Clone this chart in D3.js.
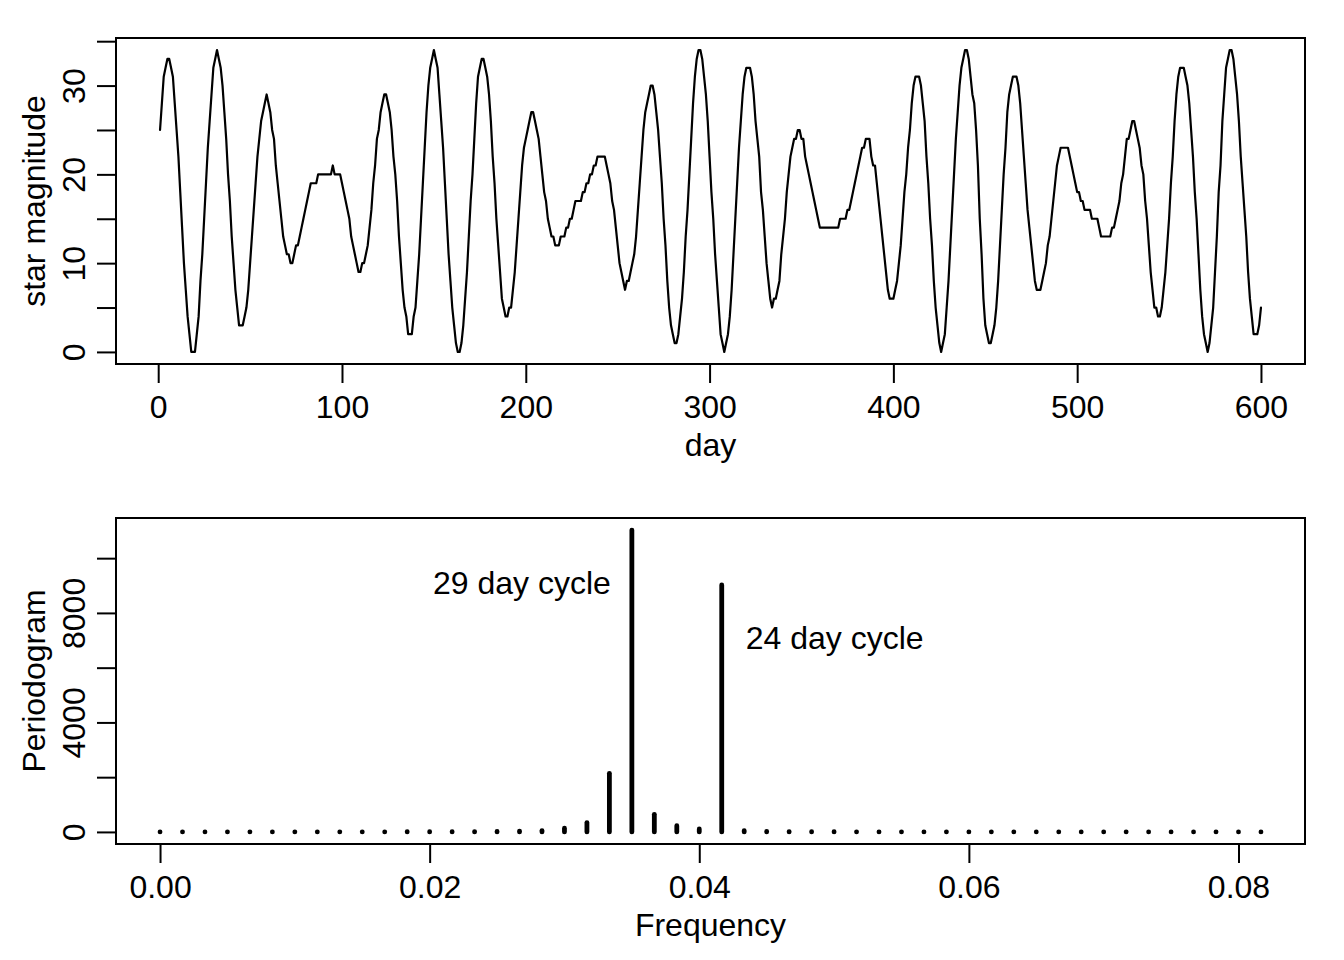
<!DOCTYPE html>
<html>
<head>
<meta charset="utf-8">
<script src="https://cdn.jsdelivr.net/npm/d3@7"></script>
<style>
  body { margin: 0; background: #fff; }
  svg text { font-family: "Liberation Sans", Arial, Helvetica, sans-serif; fill: #000; }
</style>
</head>
<body>
<div id="chart"></div>
<script>
// DATA - STAR MAGNITUDE, ONE READING PER DAY (DAYS 1..600)
const starMagnitude = [
  25, 28, 31, 32, 33, 33, 32, 31, 28, 25,
  22, 18, 14, 10, 7, 4, 2, 0, 0, 0,
  2, 4, 8, 11, 15, 19, 23, 26, 29, 32,
  33, 34, 33, 32, 30, 27, 24, 20, 17, 13,
  10, 7, 5, 3, 3, 3, 4, 5, 7, 10,
  13, 16, 19, 22, 24, 26, 27, 28, 29, 28,
  27, 25, 24, 21, 19, 17, 15, 13, 12, 11,
  11, 10, 10, 11, 12, 12, 13, 14, 15, 16,
  17, 18, 19, 19, 19, 19, 20, 20, 20, 20,
  20, 20, 20, 20, 21, 20, 20, 20, 20, 19,
  18, 17, 16, 15, 13, 12, 11, 10, 9, 9,
  10, 10, 11, 12, 14, 16, 19, 21, 24, 25,
  27, 28, 29, 29, 28, 27, 25, 22, 20, 17,
  13, 10, 7, 5, 4, 2, 2, 2, 4, 5,
  8, 11, 15, 19, 23, 27, 30, 32, 33, 34,
  33, 32, 29, 26, 23, 19, 15, 11, 8, 5,
  3, 1, 0, 0, 1, 3, 6, 9, 13, 17,
  20, 24, 28, 31, 32, 33, 33, 32, 31, 29,
  26, 22, 19, 15, 12, 9, 6, 5, 4, 4,
  5, 5, 7, 9, 12, 15, 18, 21, 23, 24,
  25, 26, 27, 27, 26, 25, 24, 22, 20, 18,
  17, 15, 14, 13, 13, 12, 12, 12, 13, 13,
  13, 14, 14, 15, 15, 16, 17, 17, 17, 17,
  18, 18, 19, 19, 20, 20, 21, 21, 22, 22,
  22, 22, 22, 21, 20, 19, 17, 16, 14, 12,
  10, 9, 8, 7, 8, 8, 9, 10, 11, 13,
  16, 19, 22, 25, 27, 28, 29, 30, 30, 29,
  27, 25, 22, 19, 15, 12, 8, 5, 3, 2,
  1, 1, 2, 4, 6, 9, 13, 16, 20, 24,
  28, 31, 33, 34, 34, 33, 31, 29, 26, 22,
  18, 15, 11, 8, 5, 2, 1, 0, 1, 2,
  4, 7, 11, 15, 19, 23, 26, 29, 31, 32,
  32, 32, 31, 29, 26, 24, 22, 18, 16, 13,
  10, 8, 6, 5, 6, 6, 7, 8, 11, 13,
  15, 18, 20, 22, 23, 24, 24, 25, 25, 24,
  24, 22, 21, 20, 19, 18, 17, 16, 15, 14,
  14, 14, 14, 14, 14, 14, 14, 14, 14, 14,
  15, 15, 15, 15, 16, 16, 17, 18, 19, 20,
  21, 22, 23, 23, 24, 24, 24, 22, 21, 21,
  19, 17, 15, 13, 11, 9, 7, 6, 6, 6,
  7, 8, 10, 12, 15, 18, 20, 23, 25, 28,
  30, 31, 31, 31, 30, 28, 26, 22, 19, 15,
  12, 8, 5, 3, 1, 0, 1, 2, 5, 8,
  12, 16, 20, 24, 27, 30, 32, 33, 34, 34,
  33, 31, 29, 28, 25, 21, 15, 11, 6, 3,
  2, 1, 1, 2, 3, 5, 8, 12, 16, 20,
  23, 27, 29, 30, 31, 31, 31, 30, 28, 25,
  22, 19, 16, 14, 12, 10, 8, 7, 7, 7,
  8, 9, 10, 12, 13, 15, 17, 19, 21, 22,
  23, 23, 23, 23, 23, 22, 21, 20, 19, 18,
  18, 17, 17, 16, 16, 16, 16, 15, 15, 15,
  15, 14, 13, 13, 13, 13, 13, 13, 14, 14,
  15, 16, 17, 19, 20, 22, 24, 24, 25, 26,
  26, 25, 24, 23, 21, 20, 17, 15, 12, 9,
  7, 5, 5, 4, 4, 5, 7, 9, 12, 15,
  19, 22, 26, 29, 31, 32, 32, 32, 31, 30,
  28, 25, 22, 18, 15, 11, 7, 4, 2, 1,
  0, 1, 3, 5, 9, 13, 18, 21, 26, 29,
  32, 33, 34, 34, 33, 31, 29, 26, 22, 19,
  16, 13, 9, 6, 4, 2, 2, 2, 3, 5
];
const days = d3.range(1, starMagnitude.length + 1);

// DATA - PERIODOGRAM AT FREQUENCIES k/600, k = 0..49
const periodogram = [
  0, 2, 1, 3, 2, 1, 4, 3, 2, 5,
  4, 6, 8, 10, 12, 18, 30, 51, 135, 340,
  2141, 11026, 643, 230, 110, 9023, 45, 20, 12, 9,
  7, 5, 4, 4, 3, 3, 2, 2, 2, 1,
  2, 1, 1, 2, 1, 1, 1, 2, 1, 1
];
const frequencies = periodogram.map((d, k) => k / 600);

// TICKS AND LABELS
const dayTicks = [0, 100, 200, 300, 400, 500, 600];
const magTicks = [0, 5, 10, 15, 20, 25, 30, 35];
const magLabels = [0, 10, 20, 30];
const freqTicks = [0, 0.02, 0.04, 0.06, 0.08];
const perTicks = [0, 2000, 4000, 6000, 8000, 10000];
const perLabels = [0, 4000, 8000];
const cycleNotes = [
  { label: "29 day cycle", freq: 21 / 600, value: 9100, side: "left" },
  { label: "24 day cycle", freq: 25 / 600, value: 7100, side: "right" }
];

// SET DIMENSIONS
const W = 1344, H = 960;
const plotLeft = 116, plotRight = 1305;
const topPanel = { top: 38, bottom: 364 };
const bottomPanel = { top: 518, bottom: 844 };
const fontSize = 32;
const tickLen = 19;

// R STYLE 4% AXIS PADDING
const pad = e => [e[0] - (e[1] - e[0]) * 0.04, e[1] + (e[1] - e[0]) * 0.04];

const svg = d3.select("#chart")
  .append("svg")
  .attr("width", W)
  .attr("height", H);

svg.append("rect").attr("width", W).attr("height", H).attr("fill", "#fff");

// DRAW AXES, BOX AND TITLES FOR ONE PANEL
function drawFrame(panel, x, y, xTicks, xFormat, yTicks, yLabels, xTitle, yTitle) {
  const gx = svg.append("g")
    .attr("transform", `translate(0, ${panel.bottom})`)
    .call(d3.axisBottom(x).tickValues(xTicks).tickFormat(xFormat)
      .tickSizeInner(tickLen).tickSizeOuter(0).tickPadding(12.5));
  const gy = svg.append("g")
    .attr("transform", `translate(${plotLeft}, 0)`)
    .call(d3.axisLeft(y).tickValues(yTicks)
      .tickFormat(d => yLabels.includes(d) ? String(d) : "")
      .tickSizeInner(tickLen).tickSizeOuter(0));

  [gx, gy].forEach(g => {
    g.select(".domain").remove();
    g.attr("font-size", fontSize).attr("font-family", null);
    g.selectAll(".tick line").attr("stroke", "#000").attr("stroke-width", 2);
    g.selectAll(".tick text").attr("fill", "#000");
  });

  gy.selectAll(".tick text")
    .attr("x", null)
    .attr("dy", null)
    .attr("text-anchor", "middle")
    .attr("transform", "translate(-31, 0) rotate(-90)");

  svg.append("rect")
    .attr("x", plotLeft)
    .attr("y", panel.top)
    .attr("width", plotRight - plotLeft)
    .attr("height", panel.bottom - panel.top)
    .attr("fill", "none")
    .attr("stroke", "#000")
    .attr("stroke-width", 2);

  svg.append("text")
    .attr("x", (plotLeft + plotRight) / 2)
    .attr("y", panel.bottom + 92)
    .attr("text-anchor", "middle")
    .attr("font-size", fontSize)
    .text(xTitle);

  svg.append("text")
    .attr("transform", `translate(45, ${(panel.top + panel.bottom) / 2}) rotate(-90)`)
    .attr("text-anchor", "middle")
    .attr("font-size", fontSize)
    .text(yTitle);
}

// TOP PANEL - STAR MAGNITUDE
const x1 = d3.scaleLinear().domain(pad(d3.extent(days))).range([plotLeft, plotRight]);
const y1 = d3.scaleLinear().domain(pad(d3.extent(starMagnitude))).range([topPanel.bottom, topPanel.top]);

drawFrame(topPanel, x1, y1, dayTicks, d3.format("d"), magTicks, magLabels, "day", "star magnitude");

const line = d3.line()
  .x((d, i) => x1(days[i]))
  .y(d => y1(d));

svg.append("path")
  .datum(starMagnitude)
  .attr("d", line)
  .attr("fill", "none")
  .attr("stroke", "#000")
  .attr("stroke-width", 2.2)
  .attr("stroke-linejoin", "round")
  .attr("stroke-linecap", "round");

// BOTTOM PANEL - PERIODOGRAM
const x2 = d3.scaleLinear().domain(pad(d3.extent(frequencies))).range([plotLeft, plotRight]);
const y2 = d3.scaleLinear().domain(pad([0, d3.max(periodogram)])).range([bottomPanel.bottom, bottomPanel.top]);

drawFrame(bottomPanel, x2, y2, freqTicks, d3.format(".2f"), perTicks, perLabels, "Frequency", "Periodogram");

svg.append("g")
  .selectAll("line")
  .data(periodogram)
  .join("line")
  .attr("x1", (d, i) => x2(frequencies[i]))
  .attr("x2", (d, i) => x2(frequencies[i]))
  .attr("y1", y2(0))
  .attr("y2", d => y2(d))
  .attr("stroke", "#000")
  .attr("stroke-width", 4.8)
  .attr("stroke-linecap", "round");

// CYCLE ANNOTATIONS
svg.append("g")
  .selectAll("text")
  .data(cycleNotes)
  .join("text")
  .attr("x", d => x2(d.freq) + (d.side === "left" ? -21 : 24))
  .attr("y", d => y2(d.value))
  .attr("dy", "0.35em")
  .attr("text-anchor", d => d.side === "left" ? "end" : "start")
  .attr("font-size", fontSize)
  .text(d => d.label);
</script>
</body>
</html>
